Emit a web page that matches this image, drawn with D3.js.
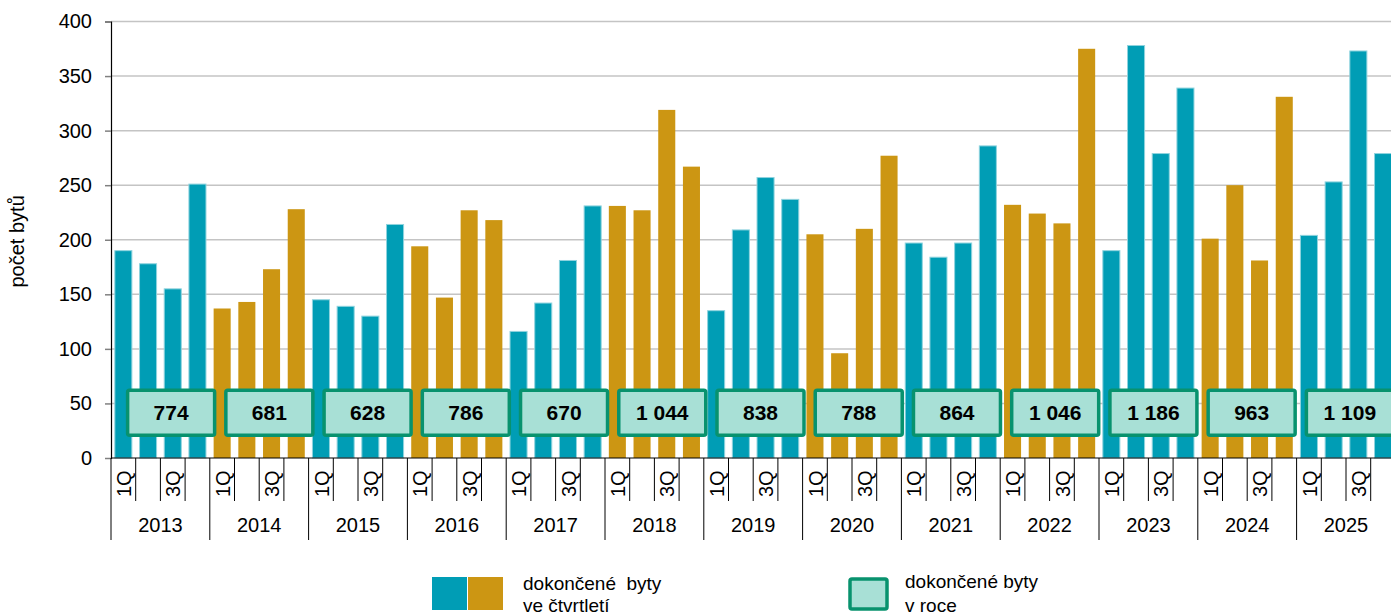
<!DOCTYPE html>
<html>
<head>
<meta charset="utf-8">
<title>Dokončené byty</title>
<script src="https://cdnjs.cloudflare.com/ajax/libs/d3/7.8.5/d3.min.js"></script>
<style>
  body { margin: 0; background: #fff; }
  text { font-family: "Liberation Sans", Arial, Helvetica, sans-serif; fill: #000; }
</style>
</head>
<body>
<svg id="chart" width="1391" height="616"></svg>
<script>
// data
var years = [2013, 2014, 2015, 2016, 2017, 2018, 2019, 2020, 2021, 2022, 2023, 2024, 2025];
var quarterNames = ["1Q", "2Q", "3Q", "4Q"];
var q1 = [190, 137, 145, 194, 116, 231, 135, 205, 197, 232, 190, 201, 204];
var q2 = [178, 143, 139, 147, 142, 227, 209, 96, 184, 224, 378, 250, 253];
var q3 = [155, 173, 130, 227, 181, 319, 257, 210, 197, 215, 279, 181, 373];
var q4 = [251, 228, 214, 218, 231, 267, 237, 277, 286, 375, 339, 331, 279];
var yearTotals = [774, 681, 628, 786, 670, 1044, 838, 788, 864, 1046, 1186, 963, 1109];
var yTicks = [0, 50, 100, 150, 200, 250, 300, 350, 400];

var teal = "#009db5",
    gold = "#cc9613",
    boxFill = "#a8e0d6",
    boxLine = "#08926e";

var svg = d3.select("#chart");

var plot = { left: 111, right: 1395.4, top: 21.5, bottom: 458 };

// flatten to one bar per quarter
var bars = [];
years.forEach(function(yr, i) {
  [q1, q2, q3, q4].forEach(function(arr, q) {
    bars.push({ year: yr, yi: i, q: q, key: yr + "-" + q, value: arr[i] });
  });
});

var x = d3.scaleBand()
    .domain(bars.map(function(d) { return d.key; }))
    .range([plot.left, plot.right])
    .paddingInner(0.31)
    .paddingOuter(0.155);

var xYear = d3.scaleBand()
    .domain(years)
    .range([plot.left, plot.right]);

// annual boxes sit on their own (secondary) axis, a little shifted
var xBox = d3.scaleBand()
    .domain(years)
    .range([122, 1399]);

var y = d3.scaleLinear()
    .domain([0, 400])
    .range([plot.bottom, plot.top]);

// gridlines
svg.append("g")
  .selectAll("line")
  .data(yTicks.filter(function(t) { return t > 0; }))
  .enter().append("line")
    .attr("x1", plot.left)
    .attr("x2", 1391)
    .attr("y1", function(d) { return y(d); })
    .attr("y2", function(d) { return y(d); })
    .attr("stroke", "#c4c4c4")
    .attr("stroke-width", 1.5);

// y axis
var yAxis = svg.append("g")
    .attr("transform", "translate(" + plot.left + ",0)")
    .call(d3.axisLeft(y).tickValues(yTicks).tickSize(6).tickPadding(13));
yAxis.select(".domain").attr("stroke", "#000").attr("stroke-width", 1.2);
yAxis.selectAll(".tick line").attr("stroke", "#808080").attr("stroke-width", 1.5);
yAxis.selectAll(".tick text")
    .style("font-size", "20px")
    .style("font-family", "'Liberation Sans', Arial, sans-serif")
    .attr("fill", "#000");

svg.append("text")
    .attr("transform", "translate(24," + y(198.5) + ") rotate(-90)")
    .attr("text-anchor", "middle")
    .style("font-size", "20px")
    .text("počet bytů");

// quarterly bars
svg.append("g")
  .selectAll("rect")
  .data(bars)
  .enter().append("rect")
    .attr("x", function(d) { return x(d.key); })
    .attr("y", function(d) { return y(d.value); })
    .attr("width", x.bandwidth())
    .attr("height", function(d) { return y(0) - y(d.value); })
    .attr("fill", function(d) { return d.yi % 2 == 0 ? teal : gold; })
    .attr("stroke", function(d) { return d.yi % 2 == 0 ? "#8fd3de" : "none"; })
    .attr("stroke-width", 1);

// annual total boxes
var fmt = d3.formatLocale({ decimal: ",", thousands: " ", grouping: [3], currency: ["", ""] }).format(",d");

var boxes = svg.append("g")
  .selectAll("g")
  .data(years)
  .enter().append("g")
    .attr("transform", function(d) {
      return "translate(" + (xBox(d) + xBox.bandwidth() / 2) + "," + y(41.5) + ")";
    });

boxes.append("rect")
    .attr("x", -43.5)
    .attr("y", -22.5)
    .attr("width", 87)
    .attr("height", 45)
    .attr("rx", 2)
    .attr("fill", boxFill)
    .attr("stroke", boxLine)
    .attr("stroke-width", 3.5);

boxes.append("text")
    .attr("text-anchor", "middle")
    .attr("dy", "0.36em")
    .style("font-size", "21px")
    .style("font-weight", "bold")
    .text(function(d, i) { return fmt(yearTotals[i]); });

// category axis
svg.append("line")
    .attr("x1", plot.left)
    .attr("x2", 1391)
    .attr("y1", y(0))
    .attr("y2", y(0))
    .attr("stroke", "#000")
    .attr("stroke-width", 1.2);

var step = x.step();
var qLines = d3.range(bars.length + 1).filter(function(k) { return k % 4 != 0; });

svg.append("g")
  .selectAll("line")
  .data(qLines)
  .enter().append("line")
    .attr("x1", function(k) { return plot.left + k * step; })
    .attr("x2", function(k) { return plot.left + k * step; })
    .attr("y1", y(0))
    .attr("y2", 501)
    .attr("stroke", "#000")
    .attr("stroke-width", 1);

svg.append("g")
  .selectAll("line")
  .data(d3.range(years.length + 1))
  .enter().append("line")
    .attr("x1", function(j) { return plot.left + j * xYear.step(); })
    .attr("x2", function(j) { return plot.left + j * xYear.step(); })
    .attr("y1", y(0))
    .attr("y2", 540)
    .attr("stroke", "#000")
    .attr("stroke-width", 1);

// only 1Q and 3Q fit
svg.append("g")
  .selectAll("text")
  .data(bars.filter(function(d) { return d.q == 0 || d.q == 2; }))
  .enter().append("text")
    .attr("transform", function(d) {
      var sx = x(d.key) - x.step() * x.paddingInner() / 2;
      return "translate(" + (sx + 20) + ",497) rotate(-90)";
    })
    .attr("text-anchor", "start")
    .style("font-size", "20px")
    .text(function(d) { return quarterNames[d.q]; });

svg.append("g")
  .selectAll("text")
  .data(years)
  .enter().append("text")
    .attr("x", function(d) { return xYear(d) + xYear.bandwidth() / 2; })
    .attr("y", 532)
    .attr("text-anchor", "middle")
    .style("font-size", "20px")
    .text(function(d) { return d; });

// legend
var legend = svg.append("g");

legend.append("rect")
    .attr("x", 432).attr("y", 577)
    .attr("width", 35).attr("height", 33)
    .attr("fill", teal);
legend.append("rect")
    .attr("x", 468).attr("y", 577)
    .attr("width", 35).attr("height", 33)
    .attr("fill", gold);
legend.append("text")
    .attr("x", 523).attr("y", 590)
    .style("font-size", "19px")
    .style("white-space", "pre")
    .attr("xml:space", "preserve")
    .text("dokončené  byty");
legend.append("text")
    .attr("x", 523).attr("y", 612)
    .style("font-size", "19px")
    .text("ve čtvrtletí");

legend.append("rect")
    .attr("x", 850).attr("y", 579)
    .attr("width", 37).attr("height", 30)
    .attr("rx", 2)
    .attr("fill", boxFill)
    .attr("stroke", boxLine)
    .attr("stroke-width", 3.5);
legend.append("text")
    .attr("x", 905).attr("y", 588)
    .style("font-size", "19px")
    .text("dokončené byty");
legend.append("text")
    .attr("x", 905).attr("y", 612)
    .style("font-size", "19px")
    .text("v roce");
</script>
</body>
</html>
